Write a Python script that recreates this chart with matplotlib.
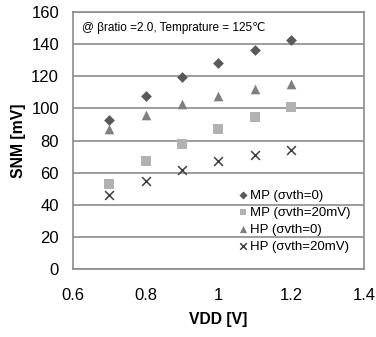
import matplotlib
matplotlib.use("Agg")
import matplotlib.pyplot as plt

vdd = [0.7, 0.8, 0.9, 1.0, 1.1, 1.2]
mp_s0 = [92.5, 107.5, 119.5, 128.5, 136.5, 142.5]
mp_s20 = [53, 67, 78, 87, 94.5, 101]
hp_s0 = [87, 96, 103, 108, 112, 115]
hp_s20 = [46, 55, 61.5, 67, 71, 74]

labels = ["MP (σvth=0)", "MP (σvth=20mV)", "HP (σvth=0)", "HP (σvth=20mV)"]
xticks = [0.6, 0.8, 1.0, 1.2, 1.4]
xticklabels = ["0.6", "0.8", "1", "1.2", "1.4"]
yticks = [0, 20, 40, 60, 80, 100, 120, 140, 160]

plt.rcParams['font.family'] = ['Liberation Sans', 'DejaVu Sans']

fig = plt.figure(figsize=(3.76, 3.37), dpi=100)
ax = fig.add_axes([0.194, 0.202, 0.774, 0.762])

grid_c = '#8c8c8c'
ax.scatter(vdd, mp_s0, marker='D', s=30, color='#595959', label=labels[0], zorder=3, linewidths=0)
ax.scatter(vdd, mp_s20, marker='s', s=42, color='#b2b2b2', label=labels[1], zorder=3, linewidths=0)
ax.scatter(vdd, hp_s0, marker='^', s=48, color='#7f7f7f', label=labels[2], zorder=3, linewidths=0)
ax.scatter(vdd, hp_s20, marker='x', s=40, color='#404040', label=labels[3], zorder=3, linewidths=1.1)

ax.set_xlim(0.6, 1.4)
ax.set_ylim(0, 160)
ax.set_xticks(xticks)
ax.set_xticklabels(xticklabels)
ax.set_yticks(yticks)
ax.tick_params(length=0, labelsize=12)
ax.tick_params(axis='x', pad=13.5)
ax.tick_params(axis='y', pad=10)
ax.yaxis.grid(True, color=grid_c, linewidth=1.2)
ax.set_axisbelow(True)
for sp in ax.spines.values():
    sp.set_color(grid_c)
    sp.set_linewidth(1.2)

ax.set_xlabel("VDD [V]", fontsize=11.3, fontweight='bold', labelpad=7)
ax.set_ylabel("SNM [mV]", fontsize=11.3, fontweight='bold', labelpad=4)

ax.text(0.03, 0.96, "@ βratio =2.0, Temprature = 125\u2103", transform=ax.transAxes,
        fontsize=8.5, va='top', ha='left')

leg = ax.legend(loc='lower right', bbox_to_anchor=(0.985, 0.027), frameon=False,
                fontsize=9.5, handletextpad=0.0, handlelength=1.0, labelspacing=0.36,
                markerscale=0.75, borderaxespad=0.3)

fig.savefig("out.png", dpi=100)
